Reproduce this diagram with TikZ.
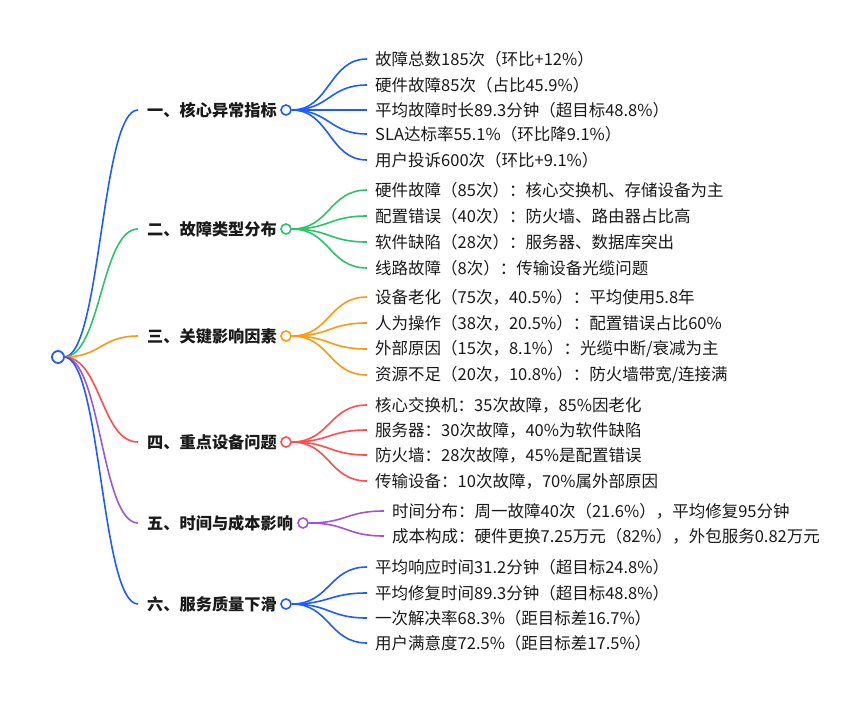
\documentclass[tikz,border=0pt]{standalone}
\usepackage{fontspec}
\setmainfont{Noto Sans CJK SC}
\definecolor{cblue}{HTML}{1F5CFF}
\definecolor{cgreen}{HTML}{2CC46A}
\definecolor{corange}{HTML}{FF9A10}
\definecolor{cred}{HTML}{FF4D50}
\definecolor{cpurple}{HTML}{9D55E0}
\definecolor{ctext}{HTML}{1A1A1A}
\begin{document}
\begin{tikzpicture}[x=1pt,y=-1pt,
  rootc/.style={circle,draw=cblue,line width=1.8pt,fill=white,minimum size=12pt,inner sep=0pt},
  bc/.style={circle,draw=#1,line width=1.6pt,fill=white,minimum size=10pt,inner sep=0pt},
  blab/.style={anchor=west,inner sep=0pt,font=\fontsize{16.2}{19}\selectfont\bfseries,text=ctext},
  leaf/.style={anchor=west,inner sep=0pt,font=\fontsize{16.5}{19}\selectfont,text=ctext},
  conn/.style={line width=1.6pt,draw=#1},
]
\useasboundingbox (0,0) rectangle (865,702);

% branches
\node[blab] (b1) at (147,110) {一、核心异常指标};
\node[blab] (b2) at (147,229) {二、故障类型分布};
\node[blab] (b3) at (147,336) {三、关键影响因素};
\node[blab] (b4) at (147,442) {四、重点设备问题};
\node[blab] (b5) at (147,523) {五、时间与成本影响};
\node[blab] (b6) at (147,604) {六、服务质量下滑};

\draw[conn=cblue]   (64,357) coordinate (r0) .. controls +(37,0) and +(-37,0) .. ([xshift=-9pt]b1.west);
\draw[conn=cgreen]  (r0) .. controls +(37,0) and +(-37,0) .. ([xshift=-9pt]b2.west);
\draw[conn=corange] (r0) .. controls +(37,0) and +(-37,0) .. ([xshift=-9pt]b3.west);
\draw[conn=cred]    (r0) .. controls +(37,0) and +(-37,0) .. ([xshift=-9pt]b4.west);
\draw[conn=cpurple] (r0) .. controls +(37,0) and +(-37,0) .. ([xshift=-9pt]b5.west);
\draw[conn=cblue]   (r0) .. controls +(37,0) and +(-37,0) .. ([xshift=-9pt]b6.west);
\node[rootc] (root) at (58,357) {};

% branch circles
\node[bc=cblue]   (c1) at (286,110) {};
\node[bc=cgreen]  (c2) at (286,229) {};
\node[bc=corange] (c3) at (286,336) {};
\node[bc=cred]    (c4) at (286,442) {};
\node[bc=cpurple] (c5) at (303,523) {};
\node[bc=cblue]   (c6) at (286,604) {};

% leaves branch 1
\node[leaf] (l11) at (375,59)  {故障总数185次（环比+12\%）};
\node[leaf] (l12) at (375,85)  {硬件故障85次（占比45.9\%）};
\node[leaf] (l13) at (375,110) {平均故障时长89.3分钟（超目标48.8\%）};
\node[leaf] (l14) at (375,134) {SLA达标率55.1\%（环比降9.1\%）};
\node[leaf] (l15) at (375,160) {用户投诉600次（环比+9.1\%）};
% branch 2
\node[leaf] (l21) at (375,190) {硬件故障（85次）：核心交换机、存储设备为主};
\node[leaf] (l22) at (375,216) {配置错误（40次）：防火墙、路由器占比高};
\node[leaf] (l23) at (375,242) {软件缺陷（28次）：服务器、数据库突出};
\node[leaf] (l24) at (375,268) {线路故障（8次）：传输设备光缆问题};
% branch 3
\node[leaf] (l31) at (375,297) {设备老化（75次，40.5\%）：平均使用5.8年};
\node[leaf] (l32) at (375,323) {人为操作（38次，20.5\%）：配置错误占比60\%};
\node[leaf] (l33) at (375,349) {外部原因（15次，8.1\%）：光缆中断/衰减为主};
\node[leaf] (l34) at (375,375) {资源不足（20次，10.8\%）：防火墙带宽/连接满};
% branch 4
\node[leaf] (l41) at (375,405) {核心交换机：35次故障，85\%因老化};
\node[leaf] (l42) at (375,430) {服务器：30次故障，40\%为软件缺陷};
\node[leaf] (l43) at (375,455) {防火墙：28次故障，45\%是配置错误};
\node[leaf] (l44) at (375,481) {传输设备：10次故障，70\%属外部原因};
% branch 5
\node[leaf] (l51) at (392,511) {时间分布：周一故障40次（21.6\%），平均修复95分钟};
\node[leaf] (l52) at (392,536) {成本构成：硬件更换7.25万元（82\%），外包服务0.82万元};
% branch 6
\node[leaf] (l61) at (375,567) {平均响应时间31.2分钟（超目标24.8\%）};
\node[leaf] (l62) at (375,593) {平均修复时间89.3分钟（超目标48.8\%）};
\node[leaf] (l63) at (375,618) {一次解决率68.3\%（距目标差16.7\%）};
\node[leaf] (l64) at (375,643) {用户满意度72.5\%（距目标差17.5\%）};

% leaf connectors
\foreach \c/\l/\col in {c1/l11/cblue,c1/l12/cblue,c1/l13/cblue,c1/l14/cblue,c1/l15/cblue,
  c2/l21/cgreen,c2/l22/cgreen,c2/l23/cgreen,c2/l24/cgreen,
  c3/l31/corange,c3/l32/corange,c3/l33/corange,c3/l34/corange,
  c4/l41/cred,c4/l42/cred,c4/l43/cred,c4/l44/cred,
  c5/l51/cpurple,c5/l52/cpurple,
  c6/l61/cblue,c6/l62/cblue,c6/l63/cblue,c6/l64/cblue}
  \draw[conn=\col] (\c.east) .. controls +(38,0) and +(-38,0) .. ([xshift=-8pt]\l.west);
\end{tikzpicture}
\end{document}
